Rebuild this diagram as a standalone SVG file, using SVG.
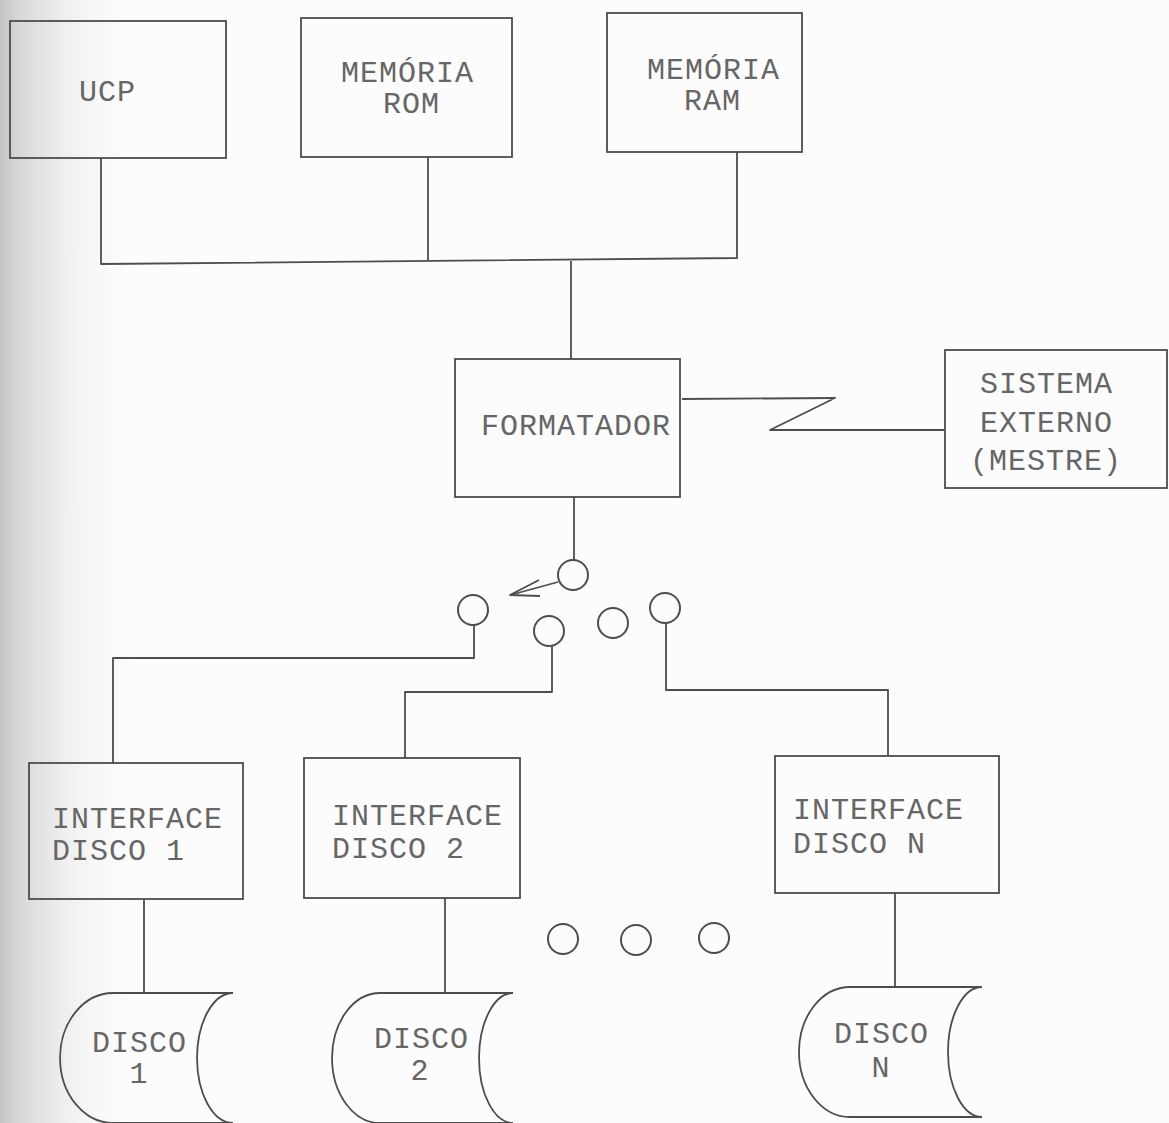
<svg xmlns="http://www.w3.org/2000/svg" width="1169" height="1123" viewBox="0 0 1169 1123">
  <defs>
    <linearGradient id="edgeShade" x1="0" y1="0" x2="1" y2="0">
      <stop offset="0" stop-color="#c4c4c4"/>
      <stop offset="0.15" stop-color="#d9d9d9"/>
      <stop offset="0.45" stop-color="#eeeeee"/>
      <stop offset="1" stop-color="#fbfbfb" stop-opacity="0"/>
    </linearGradient>
    <style>
      .box { fill: none; stroke: #4d4d4d; stroke-width: 1.8; }
      .wire { fill: none; stroke: #4d4d4d; stroke-width: 1.8; stroke-linejoin: round; }
      .dot { fill: none; stroke: #4d4d4d; stroke-width: 2; }
      .lbl { font-family: "Liberation Mono", "DejaVu Sans Mono", monospace; font-size: 30px; letter-spacing: 1px; fill: #666666; }
      .mid { text-anchor: middle; }
    </style>
  </defs>

  <!-- paper -->
  <rect x="0" y="0" width="1169" height="1123" fill="#fcfcfc"/>
  <rect x="0" y="0" width="140" height="1123" fill="url(#edgeShade)"/>

  <!-- connectors -->
  <g id="connectors">
    <!-- system bus -->
    <path class="wire" d="M101,158 L101,264 L737,258 L737,152"/>
    <path class="wire" d="M428,157 L428,261"/>
    <path class="wire" d="M571,261 L571,359"/>
    <!-- serial link to external system -->
    <path class="wire" d="M682,399 L835,398 L770,430 L945,430"/>
    <!-- formatter to selector -->
    <path class="wire" d="M574,497 L574,560"/>
    <!-- selector pointer with open head -->
    <path class="wire" d="M558,582 L514,594"/>
    <path class="wire" d="M539,580 L510,595 L540,596"/>
    <!-- selector contacts to interfaces -->
    <path class="wire" d="M474,625 L474,658 L113,658 L113,763"/>
    <path class="wire" d="M552,646 L552,692 L405,692 L405,758"/>
    <path class="wire" d="M666,623 L666,690 L888,690 L888,756"/>
    <!-- interfaces to drives -->
    <path class="wire" d="M144,899 L144,993"/>
    <path class="wire" d="M445,898 L445,993"/>
    <path class="wire" d="M895,893 L895,987"/>
  </g>

  <!-- selector contacts -->
  <g id="selector">
    <circle class="dot" cx="573" cy="575" r="15"/>
    <circle class="dot" cx="473" cy="610" r="15"/>
    <circle class="dot" cx="549" cy="631" r="15"/>
    <circle class="dot" cx="613" cy="623" r="15"/>
    <circle class="dot" cx="665" cy="608" r="15"/>
  </g>

  <g id="ellipsis">
    <circle class="dot" cx="563" cy="939" r="15"/>
    <circle class="dot" cx="636" cy="940" r="15"/>
    <circle class="dot" cx="714" cy="938" r="15"/>
  </g>

  <g id="ucp">
    <rect class="box" x="10" y="21" width="216" height="137"/>
    <text class="lbl" x="79" y="101">UCP</text>
  </g>

  <g id="rom">
    <rect class="box" x="301" y="18" width="211" height="139"/>
    <text class="lbl" x="341" y="82">MEMÓRIA</text>
    <text class="lbl" x="383" y="113">ROM</text>
  </g>

  <g id="ram">
    <rect class="box" x="607" y="13" width="195" height="139"/>
    <text class="lbl" x="647" y="79">MEMÓRIA</text>
    <text class="lbl" x="684" y="110">RAM</text>
  </g>

  <g id="formatador">
    <rect class="box" x="455" y="359" width="225" height="138"/>
    <text class="lbl" x="481" y="435">FORMATADOR</text>
  </g>

  <g id="sistema-externo">
    <rect class="box" x="945" y="350" width="222" height="138"/>
    <text class="lbl" x="980" y="393">SISTEMA</text>
    <text class="lbl" x="980" y="432">EXTERNO</text>
    <text class="lbl" x="970" y="470">(MESTRE)</text>
  </g>

  <g id="interface-1">
    <rect class="box" x="29" y="763" width="214" height="136"/>
    <text class="lbl" x="52" y="828">INTERFACE</text>
    <text class="lbl" x="52" y="860">DISCO 1</text>
  </g>

  <g id="interface-2">
    <rect class="box" x="304" y="758" width="216" height="140"/>
    <text class="lbl" x="332" y="825">INTERFACE</text>
    <text class="lbl" x="332" y="858">DISCO 2</text>
  </g>

  <g id="interface-n">
    <rect class="box" x="775" y="756" width="224" height="137"/>
    <text class="lbl" x="793" y="819">INTERFACE</text>
    <text class="lbl" x="793" y="853">DISCO N</text>
  </g>

  <g id="disco-1">
    <path class="box" d="M113,993 L233,993 A36,65 0 0 0 233,1123 L113,1123 A53,65 0 0 1 113,993 Z"/>
    <text class="lbl" x="92" y="1052">DISCO</text>
    <text class="lbl mid" x="139" y="1083">1</text>
  </g>

  <g id="disco-2">
    <path class="box" d="M380,993 L513,993 A34,65 0 0 0 513,1123 L380,1123 A48,65 0 0 1 380,993 Z"/>
    <text class="lbl" x="374" y="1048">DISCO</text>
    <text class="lbl mid" x="420" y="1080">2</text>
  </g>

  <g id="disco-n">
    <path class="box" d="M850,987 L982,987 A34,65 0 0 0 982,1117 L850,1117 A51,65 0 0 1 850,987 Z"/>
    <text class="lbl" x="834" y="1043">DISCO</text>
    <text class="lbl mid" x="881" y="1077">N</text>
  </g>
</svg>
